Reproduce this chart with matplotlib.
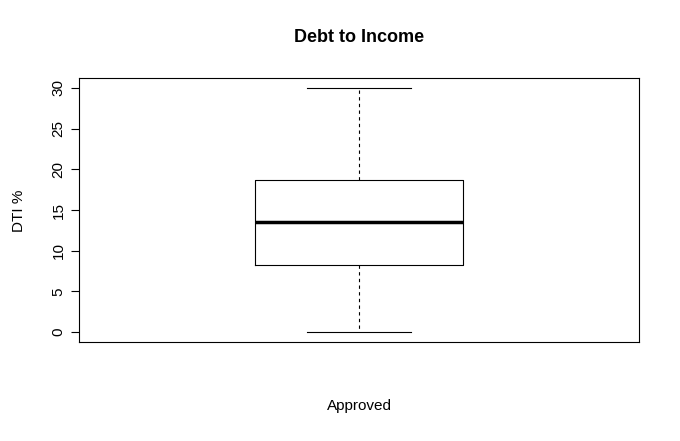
import matplotlib.pyplot as plt

plt.rcParams['font.family'] = ['Liberation Sans', 'DejaVu Sans']

group = "Approved"
whisker_low = 0.0
q1 = 8.2
median = 13.5
q3 = 18.65
whisker_high = 30.0

fig = plt.figure(figsize=(6.8, 4.41), dpi=100)
ax = fig.add_axes([0.116, 0.2245, 0.824, 0.5985])

stats = [dict(whislo=whisker_low, q1=q1, med=median, q3=q3, whishi=whisker_high, fliers=[], label="")]
ax.bxp(stats, positions=[1], widths=0.4, showfliers=False,
       boxprops=dict(color='black', linewidth=0.8),
       medianprops=dict(color='black', linewidth=2.5),
       whiskerprops=dict(color='black', linewidth=0.8, linestyle=(0, (3, 3))),
       capprops=dict(color='black', linewidth=0.8), capwidths=0.2)

ax.set_xlim(0.46, 1.54)
ax.set_ylim(-1.2, 31.2)
ax.set_xticks([])
ax.set_yticks([0, 5, 10, 15, 20, 25, 30])
ax.tick_params(axis='y', direction='out', length=6, labelsize=11, labelrotation=90)
for lab in ax.get_yticklabels():
    lab.set_va('center')
for s in ax.spines.values():
    s.set_linewidth(0.8)

ax.set_title("Debt to Income", fontsize=13, fontweight='bold', pad=26)
fig.text(0.528, 0.07, group, ha='center', fontsize=11)
fig.text(0.018, 0.523, "DTI %", rotation=90, va='center', fontsize=11)

fig.savefig("out.png", dpi=100)
